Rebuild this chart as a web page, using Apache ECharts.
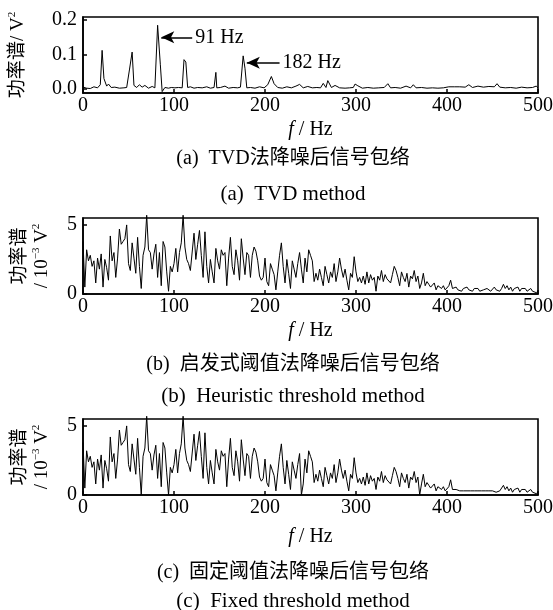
<!DOCTYPE html>
<html>
<head>
<meta charset="utf-8">
<script src="https://cdn.jsdelivr.net/npm/echarts@6/dist/echarts.min.js"></script>
<style>
  html, body { margin: 0; padding: 0; background: #fff; }
  #chart { width: 553px; height: 610px; }
</style>
</head>
<body>
<div id="chart"></div>
<script>
// (a) TVD envelope spectrum, vertices of the polyline
var freqA = [
    0, 4, 8, 12, 16, 19, 21, 23, 26, 28,
    31, 35, 40, 45, 48, 51, 54, 56, 59, 62,
    65, 68, 72, 76, 79, 82, 85, 87, 90, 94,
    97, 101, 105, 109, 111, 113, 115, 118, 122, 126,
    131, 136, 140, 144, 146, 147, 151, 156, 160, 165,
    170, 173, 176, 178, 180, 184, 189, 194, 199, 203,
    207, 210, 214, 219, 224, 229, 234, 238, 242, 247,
    252, 257, 261, 264, 267, 269, 271, 273, 277, 282,
    288, 293, 297, 299, 302, 307, 313, 319, 325, 331,
    335, 338, 343, 349, 355, 360, 363, 366, 372, 378,
    384, 390, 396, 402, 408, 414, 420, 424, 428, 434,
    440, 446, 452, 455, 458, 464, 470, 476, 482, 488,
    494, 498, 500
];
var powerA = [
    0.005, 0.002, 0.001, 0.006, 0.003, 0.012, 0.112, 0.030, 0.008, 0.014,
    0.004, 0.005, 0.002, 0.003, 0.004, 0.055, 0.107, 0.010, 0.004, 0.012,
    0.005, 0.010, 0.002, 0.007, 0.003, 0.185, 0.070, -0.008, 0.004, 0.002,
    0.004, 0.003, 0.004, 0.003, 0.085, 0.078, 0.004, 0.006, 0.002, 0.004,
    0.003, 0.006, 0.002, 0.004, 0.048, 0.003, 0.004, 0.008, 0.002, 0.004,
    0.003, 0.005, 0.096, 0.060, 0.003, 0.004, 0.002, 0.006, 0.003, 0.012,
    0.036, 0.015, 0.004, 0.002, 0.006, 0.003, 0.008, 0.013, 0.003, 0.007,
    0.003, 0.004, 0.003, 0.016, 0.004, 0.024, 0.028, 0.004, 0.010, 0.003,
    0.002, 0.003, 0.004, 0.014, 0.009, 0.002, 0.004, 0.002, 0.003, 0.004,
    0.015, 0.003, 0.004, 0.002, 0.008, 0.003, 0.012, 0.003, 0.004, 0.002,
    0.003, 0.002, 0.003, 0.006, 0.006, 0.006, 0.005, 0.012, 0.004, 0.008,
    0.005, 0.007, 0.006, 0.015, 0.005, 0.003, 0.004, 0.002, 0.005, 0.003,
    0.004, 0.008, 0.003
];

// (b) and (c): one value per 2 Hz bin, 0 .. 500 Hz, unit 10^-3 V^2
// each row holds 20 Hz
var binStep = 2;
var powerB = [
    3.8, 0.5, 3.2, 2.4, 2.8, 2.0, 2.4, 0.8, 2.6, 1.8,
    2.9, 0.5, 2.5, 1.9, 1.0, 4.2, 2.4, 3.0, 1.2, 2.6,
    4.7, 3.6, 3.8, 4.0, 5.0, 2.2, 1.7, 3.7, 2.6, 1.5,
    4.1, 2.0, 0.4, 2.8, 3.4, 5.7, 3.2, 3.0, 1.8, 2.9,
    3.6, 1.2, 3.0, 0.6, 3.8, 3.4, 1.6, 0.2, 2.0, 1.6,
    2.2, 3.3, 1.6, 3.0, 3.7, 5.7, 3.4, 2.5, 2.2, 1.7,
    1.7, 4.4, 2.5, 3.6, 4.6, 2.8, 1.2, 4.5, 2.0, 0.8,
    2.5, 1.6, 0.8, 3.3, 2.4, 1.8, 3.2, 2.8, 3.0, 0.6,
    2.6, 4.1, 2.0, 1.4, 3.2, 2.4, 1.0, 4.0, 2.6, 1.4,
    3.0, 2.8, 1.2, 2.8, 3.4, 3.1, 2.4, 1.3, 1.0, 1.2,
    2.6, 0.9, 0.6, 2.2, 1.8, 1.4, 0.3, 1.6, 2.8, 3.7,
    2.0, 0.8, 2.5, 1.5, 0.4, 2.4, 1.8, 1.2, 2.2, 3.0,
    1.8, 0.8, 2.6, 1.6, 3.2, 2.8, 2.4, 0.9, 1.5, 1.0,
    1.8, 1.2, 0.6, 2.0, 1.4, 0.8, 1.6, 1.2, 2.2, 0.9,
    1.6, 2.6, 1.8, 1.2, 1.8, 1.0, 0.3, 1.5, 1.2, 2.7,
    1.6, 0.9, 1.2, 0.8, 1.3, 0.7, 1.6, 0.8, 1.4, 1.0,
    1.2, 0.2, 1.3, 1.0, 1.7, 0.9, 1.4, 1.1, 1.2, 0.8,
    1.4, 2.0, 1.7, 1.2, 0.6, 1.6, 1.2, 0.9, 1.5, 0.5,
    1.3, 1.1, 1.7, 0.9, 1.3, 0.4, 0.8, 1.5, 0.6, 0.9,
    0.7, 0.5, 0.6, 0.8, 0.3, 0.6, 0.5, 0.4, 0.6, 0.3,
    0.4, 0.6, 1.0, 0.4, 0.3, 0.5, 0.3, 0.4, 0.2, 0.4,
    0.3, 0.5, 0.3, 0.4, 0.2, 0.4, 0.3, 0.4, 0.2, 0.3,
    0.3, 0.2, 0.4, 0.3, 0.2, 0.3, 0.5, 0.3, 0.4, 0.2,
    0.4, 0.7, 0.4, 0.6, 0.3, 0.5, 0.2, 0.4, 0.3, 0.5,
    0.2, 0.4, 0.3, 0.4, 0.2, 0.3, 0.4, 0.2, 0.3, 0.1,
    0.2
];
var powerC = [
    3.8, 0.5, 3.2, 2.4, 2.8, 2.0, 2.4, 0.8, 2.6, 1.8,
    2.9, 0.5, 2.5, 1.9, 1.0, 4.2, 2.4, 3.0, 1.2, 2.6,
    4.7, 3.6, 3.8, 4.0, 5.0, 2.2, 1.7, 3.7, 2.6, 1.5,
    4.1, 2.0, 0.0, 2.8, 3.4, 5.7, 3.2, 3.0, 1.8, 2.9,
    3.6, 1.2, 3.0, 0.6, 3.8, 3.4, 1.6, 0.0, 2.0, 1.6,
    2.2, 3.3, 1.6, 3.0, 3.7, 5.7, 3.4, 2.5, 2.2, 1.7,
    1.7, 4.4, 2.5, 3.6, 4.6, 2.8, 1.2, 4.5, 2.0, 0.8,
    2.5, 1.6, 0.8, 3.3, 2.4, 1.8, 3.2, 2.8, 3.0, 0.6,
    2.6, 4.1, 2.0, 1.4, 3.2, 2.4, 1.0, 4.0, 2.6, 1.4,
    3.0, 2.8, 1.2, 2.8, 3.4, 3.1, 2.4, 1.3, 1.0, 1.2,
    2.6, 0.9, 0.6, 2.2, 1.8, 1.4, 0.3, 1.6, 2.8, 3.7,
    2.0, 0.8, 2.5, 1.5, 0.4, 2.4, 1.8, 1.2, 2.2, 3.0,
    0.0, 0.8, 2.6, 1.6, 3.2, 2.8, 2.4, 0.9, 1.5, 1.0,
    1.8, 1.2, 0.6, 2.0, 1.4, 0.8, 1.6, 1.2, 2.2, 0.9,
    1.6, 2.6, 1.8, 1.2, 1.8, 1.0, 0.3, 1.5, 1.2, 2.7,
    1.6, 0.9, 1.2, 0.8, 1.3, 0.7, 1.6, 0.8, 1.4, 1.0,
    1.2, 0.4, 1.3, 1.0, 1.7, 0.9, 1.4, 1.1, 1.2, 0.8,
    1.4, 2.0, 1.7, 1.2, 0.6, 1.6, 1.2, 0.9, 1.5, 0.5,
    1.3, 1.1, 1.7, 0.9, 1.3, 0.0, 0.8, 1.5, 0.6, 0.9,
    0.7, 0.5, 0.6, 0.8, 0.3, 0.6, 0.5, 0.4, 0.6, 0.3,
    0.4, 0.6, 1.1, 0.4, 0.3, 0.4, 0.3, 0.3, 0.3, 0.3,
    0.3, 0.3, 0.3, 0.3, 0.3, 0.3, 0.3, 0.3, 0.3, 0.3,
    0.3, 0.3, 0.3, 0.3, 0.3, 0.3, 0.3, 0.2, 0.3, 0.3,
    0.4, 0.7, 0.4, 0.6, 0.3, 0.5, 0.2, 0.4, 0.3, 0.5,
    0.2, 0.4, 0.3, 0.4, 0.2, 0.3, 0.4, 0.2, 0.3, 0.1,
    0.2
];

var yTicksA = [0, 0.1, 0.2];
var yTicksBC = [0, 5];
var peakNames = ['91 Hz', '182 Hz'];
var captions = [
    '(a)  TVD法降噪后信号包络',
    '(a)  TVD method',
    '(b)  启发式阈值法降噪后信号包络',
    '(b)  Heuristic threshold method',
    '(c)  固定阈值法降噪后信号包络',
    '(c)  Fixed threshold method'
];

var serif = "'Liberation Serif', 'Noto Sans CJK SC', serif";
var captionY = [159, 194, 365, 396, 573, 601];
var captionSize = [20, 21, 20, 21, 20, 21];

function pairs(xs, ys) {
    return ys.map(function (v, i) { return [xs[i], v]; });
}
function binned(ys) {
    return ys.map(function (v, i) { return [i * binStep, v]; });
}

function makeGrid(top) {
    return {
        left: 83, right: 15, top: top, height: 76,
        show: true, borderColor: '#000', borderWidth: 1.6,
        outerBoundsMode: 'none'
    };
}

function makeX(idx, gap) {
    return {
        type: 'value', gridIndex: idx, min: 0, max: 500, interval: 100,
        name: '{i|f} / Hz', nameLocation: 'middle', nameGap: gap,
        nameTextStyle: {
            color: '#000', fontFamily: serif, fontSize: 20,
            rich: { i: { fontStyle: 'italic', fontFamily: serif, fontSize: 20, color: '#000' } }
        },
        axisLine: { show: true, onZero: false, lineStyle: { color: '#000', width: 1.6 } },
        axisTick: { show: true, inside: true, length: 4, lineStyle: { color: '#000', width: 1.5 } },
        axisLabel: { color: '#000', fontFamily: serif, fontSize: 20, margin: 3 },
        splitLine: { show: false }
    };
}

var supRich = {
    s: { fontSize: 11, fontFamily: serif, color: '#000', verticalAlign: 'top', lineHeight: 22 },
    n: { fontSize: 19, fontFamily: serif, color: '#000', lineHeight: 22 }
};

function makeY(idx, min, max, ticks, fmt, name, gap) {
    return {
        type: 'value', gridIndex: idx, min: min, max: max,
        name: name, nameLocation: 'middle', nameRotate: 90, nameGap: gap,
        nameTextStyle: { color: '#000', fontFamily: serif, fontSize: 19, lineHeight: 22, rich: supRich },
        axisLine: { show: true, onZero: false, lineStyle: { color: '#000', width: 1.6 } },
        axisTick: { show: true, inside: true, length: 4, customValues: ticks, lineStyle: { color: '#000', width: 1.5 } },
        axisLabel: { color: '#000', fontFamily: serif, fontSize: 20, margin: 6, customValues: ticks, formatter: fmt },
        splitLine: { show: false }
    };
}

var lineStyle = { color: '#000', width: 1 };

var chart = echarts.init(document.getElementById('chart'));
chart.setOption({
    animation: false,
    backgroundColor: '#fff',
    grid: [makeGrid(17), makeGrid(218), makeGrid(419)],
    xAxis: [makeX(0, 27), makeX(1, 27), makeX(2, 32)],
    yAxis: [
        makeY(0, -0.012, 0.209, yTicksA, function (v) { return v.toFixed(1); },
            '{n|功率谱/ V}{s|2}', 54),
        makeY(1, 0, 5.5, yTicksBC, function (v) { return String(v); },
            '{n|功率谱}\n{n|/ 10}{s|−3}{n| V}{s|2}', 30),
        makeY(2, 0, 5.5, yTicksBC, function (v) { return String(v); },
            '{n|功率谱}\n{n|/ 10}{s|−3}{n| V}{s|2}', 30)
    ],
    series: [
        {
            type: 'line', xAxisIndex: 0, yAxisIndex: 0, data: pairs(freqA, powerA),
            symbol: 'none', clip: false, lineStyle: lineStyle,
            markLine: {
                silent: true, animation: false,
                symbol: ['none', 'arrow'], symbolSize: [9, 13],
                lineStyle: { color: '#000', width: 1.5, type: 'solid' },
                label: {
                    show: true, position: 'start', distance: 3, color: '#000',
                    fontFamily: serif, fontSize: 20,
                    formatter: function (p) { return p.name; }
                },
                data: [
                    [{ name: peakNames[0], coord: [120, 0.15] }, { coord: [86, 0.15] }],
                    [{ name: peakNames[1], coord: [216, 0.076] }, { coord: [180, 0.076] }]
                ]
            }
        },
        {
            type: 'line', xAxisIndex: 1, yAxisIndex: 1, data: binned(powerB),
            symbol: 'none', clip: false, lineStyle: lineStyle
        },
        {
            type: 'line', xAxisIndex: 2, yAxisIndex: 2, data: binned(powerC),
            symbol: 'none', clip: false, lineStyle: lineStyle
        }
    ],
    graphic: captions.map(function (t, i) {
        return {
            type: 'text', x: 293, y: captionY[i],
            style: {
                text: t, fill: '#000', font: captionSize[i] + 'px ' + serif,
                textAlign: 'center', textVerticalAlign: 'middle'
            }
        };
    })
});
</script>
</body>
</html>
